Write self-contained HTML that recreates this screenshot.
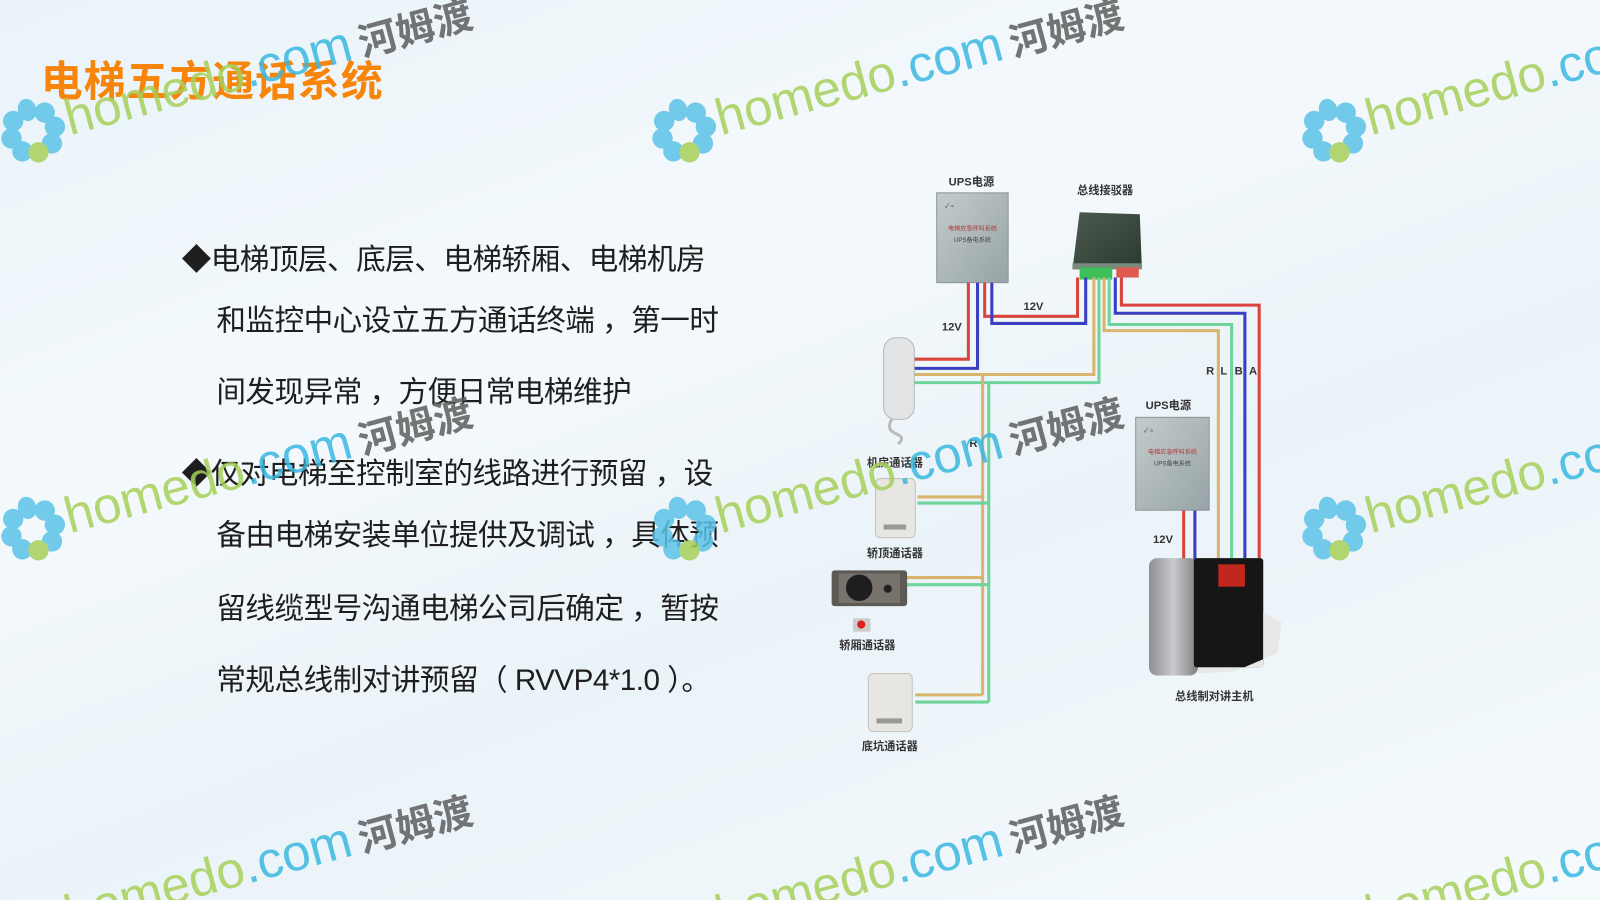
<!DOCTYPE html>
<html><head><meta charset="utf-8">
<style>
html,body{margin:0;padding:0;width:1600px;height:900px;overflow:hidden;}
#wrap{position:absolute;left:0;top:0;width:1568px;height:882px;transform:scale(1.0204);transform-origin:0 0;
background:linear-gradient(160deg,#e9f3f9 0%,#f4f9fc 35%,#eaf3f8 60%,#f5fafd 100%);overflow:hidden;
font-family:"Liberation Sans","Noto Sans CJK SC",sans-serif;}
.title{position:absolute;left:40px;top:46px;font-size:41px;font-weight:bold;color:#f7850a;letter-spacing:1px;white-space:nowrap;}
.ln{position:absolute;font-size:29px;color:#1e1e1e;white-space:nowrap;line-height:30px;letter-spacing:-0.5px;}
.wm{position:absolute;transform:rotate(-15deg);transform-origin:0 0;opacity:0.85;white-space:nowrap;}
.wm svg{position:absolute;left:-34px;top:-34px;}
.wm .t{position:absolute;left:34px;top:-30px;font-size:50px;line-height:54px;}
.wm .h{color:#a6d05a;}
.wm .c{color:#3ab8e0;}
.wm .z{color:#5d5d5d;font-weight:bold;font-size:38px;margin-left:8px;}
svg text{font-family:"Liberation Sans","Noto Sans CJK SC",sans-serif;}
</style></head><body><div id="wrap">

<div class="title">电梯五方通话系统</div>

<div class="ln" style="left:178px;top:240px;">◆电梯顶层、底层、电梯轿厢、电梯机房</div>
<div class="ln" style="left:212px;top:300px;">和监控中心设立五方通话终端 ，第一时</div>
<div class="ln" style="left:212px;top:370px;">间发现异常 ，方便日常电梯维护</div>
<div class="ln" style="left:178px;top:450px;">◆仅对电梯至控制室的线路进行预留 ，设</div>
<div class="ln" style="left:212px;top:510px;">备由电梯安装单位提供及调试 ，具体预</div>
<div class="ln" style="left:212px;top:582px;">留线缆型号沟通电梯公司后确定 ，暂按</div>
<div class="ln" style="left:212px;top:652px;">常规总线制对讲预留（ RVVP4*1.0 ）。</div>

<svg style="position:absolute;left:0;top:0" width="1568" height="882" viewBox="0 0 1568 882">
<defs>
<linearGradient id="ups" x1="0" y1="0" x2="1" y2="1"><stop offset="0" stop-color="#c3cccd"/><stop offset="1" stop-color="#97a3a5"/></linearGradient>
<linearGradient id="bus" x1="0" y1="0" x2="1" y2="1"><stop offset="0" stop-color="#4c5a4e"/><stop offset="1" stop-color="#2b3a31"/></linearGradient>
<linearGradient id="hs" x1="0" y1="0" x2="1" y2="0"><stop offset="0" stop-color="#8d8f92"/><stop offset="0.5" stop-color="#c9cacc"/><stop offset="1" stop-color="#7d7f82"/></linearGradient>
</defs>
<rect x="918" y="189" width="70" height="88" fill="url(#ups)" stroke="#8a9597"/>
<text x="926" y="204" font-size="6" fill="#346">✓ ≈</text>
<text x="953" y="226" font-size="6" fill="#b33" text-anchor="middle">电梯应急呼叫系统</text>
<text x="953" y="237" font-size="6" fill="#444" text-anchor="middle">UPS备电系统</text>
<text x="952" y="182" font-size="11" font-weight="bold" fill="#333" text-anchor="middle">UPS电源</text>
<polygon points="1058,208 1117,210 1119,262 1051,264" fill="url(#bus)"/>
<rect x="1051" y="258" width="68" height="6" fill="#7a8a7c"/>
<rect x="1058" y="262" width="32" height="12" fill="#3fbf5a"/>
<rect x="1094" y="262" width="22" height="10" fill="#e05a50"/>
<text x="1083" y="190" font-size="11" font-weight="bold" fill="#333" text-anchor="middle">总线接驳器</text>
<g fill="none" stroke-width="3">
<path d="M949,277V352H894" stroke="#d9443c"/>
<path d="M958,277V361H894" stroke="#3a3ec0"/>
<path d="M965,277V310H1056V272" stroke="#d9443c"/>
<path d="M972,277V317H1064V272" stroke="#3a3ec0"/>
<path d="M1072,272V367H894" stroke="#d9b46c"/>
<path d="M1077,272V375H894" stroke="#6fd39c"/>
<path d="M963,367V681" stroke="#d9b46c"/>
<path d="M969,375V688" stroke="#6fd39c"/>
<path d="M899,487H963M889,566H963M897,681H963" stroke="#d9b46c"/>
<path d="M899,493H969M889,573H969M897,688H969" stroke="#6fd39c"/>
<path d="M1082,272V324H1194V547" stroke="#d9b46c"/>
<path d="M1087,272V318H1207V547" stroke="#6fd39c"/>
<path d="M1093,272V307H1220V547" stroke="#3a3ec0"/>
<path d="M1099,272V299H1234V547" stroke="#d9443c"/>
<path d="M1160,500V549" stroke="#d9443c"/>
<path d="M1171,500V549" stroke="#3a3ec0"/>
</g>
<g font-size="11" font-weight="bold" fill="#333">
<text x="923" y="324">12V</text>
<text x="1003" y="304">12V</text>
<text x="1130" y="532">12V</text>
<text x="1182" y="367">R</text><text x="1196" y="367">L</text><text x="1210" y="367">B</text><text x="1224" y="367">A</text>
<text x="950" y="438">R</text>
</g>
<rect x="1113" y="409" width="72" height="91" fill="url(#ups)" stroke="#8a9597"/>
<text x="1121" y="424" font-size="6" fill="#346">✓ ≈</text>
<text x="1149" y="445" font-size="6" fill="#b33" text-anchor="middle">电梯应急呼叫系统</text>
<text x="1149" y="456" font-size="6" fill="#444" text-anchor="middle">UPS备电系统</text>
<text x="1145" y="401" font-size="11" font-weight="bold" fill="#333" text-anchor="middle">UPS电源</text>
<rect x="866" y="331" width="30" height="80" rx="12" fill="#e3e4e6" stroke="#b5b7ba"/>
<path d="M874,411 q-6,10 4,14 q10,4 2,10" fill="none" stroke="#bbb" stroke-width="3"/>
<text x="877" y="457" font-size="11" font-weight="bold" fill="#333" text-anchor="middle">机房通话器</text>
<rect x="858" y="469" width="39" height="58" rx="5" fill="#e7e6e2" stroke="#c4c2bc"/>
<rect x="866" y="514" width="22" height="5" fill="#999"/>
<text x="877" y="546" font-size="11" font-weight="bold" fill="#333" text-anchor="middle">轿顶通话器</text>
<rect x="815" y="559" width="74" height="35" rx="3" fill="#5d5a55"/>
<rect x="822" y="562" width="60" height="29" fill="#77736c"/>
<circle cx="842" cy="576" r="13" fill="#1e1e1e"/>
<circle cx="870" cy="577" r="4" fill="#222"/>
<rect x="836" y="606" width="17" height="13" fill="#ccc"/>
<circle cx="844" cy="612" r="4" fill="#e02020"/>
<text x="850" y="636" font-size="11" font-weight="bold" fill="#333" text-anchor="middle">轿厢通话器</text>
<rect x="851" y="660" width="43" height="57" rx="5" fill="#e7e6e2" stroke="#c4c2bc"/>
<rect x="859" y="704" width="25" height="5" fill="#999"/>
<text x="872" y="735" font-size="11" font-weight="bold" fill="#333" text-anchor="middle">底坑通话器</text>
<rect x="1126" y="547" width="48" height="115" rx="8" fill="url(#hs)"/>
<rect x="1170" y="547" width="68" height="107" rx="3" fill="#161616"/>
<rect x="1194" y="553" width="26" height="22" fill="#c0281e"/>
<path d="M1238,600 L1256,610 L1252,640 L1210,658 L1174,660 L1174,654 L1238,654Z" fill="#e8e8e8"/>
<text x="1190" y="686" font-size="11" font-weight="bold" fill="#333" text-anchor="middle">总线制对讲主机</text>
</svg>

<div class="wm" style="left:32px;top:128px;"><svg width="68" height="68" viewBox="-34 -34 68 68"><g fill="#5cc3e8"><ellipse cx="0" cy="-21" rx="9" ry="11"/><circle cx="16" cy="-14" r="10"/><circle cx="22" cy="2" r="10"/><circle cx="15" cy="17" r="10"/><circle cx="-15" cy="17" r="10"/><circle cx="-22" cy="2" r="10"/><circle cx="-16" cy="-14" r="10"/></g><circle cx="0" cy="22" r="10" fill="#a6d05a"/></svg><div class="t"><span class="h">homedo</span><span class="c">.com</span><span class="z">河姆渡</span></div></div>
<div class="wm" style="left:670px;top:128px;"><svg width="68" height="68" viewBox="-34 -34 68 68"><g fill="#5cc3e8"><ellipse cx="0" cy="-21" rx="9" ry="11"/><circle cx="16" cy="-14" r="10"/><circle cx="22" cy="2" r="10"/><circle cx="15" cy="17" r="10"/><circle cx="-15" cy="17" r="10"/><circle cx="-22" cy="2" r="10"/><circle cx="-16" cy="-14" r="10"/></g><circle cx="0" cy="22" r="10" fill="#a6d05a"/></svg><div class="t"><span class="h">homedo</span><span class="c">.com</span><span class="z">河姆渡</span></div></div>
<div class="wm" style="left:1307px;top:128px;"><svg width="68" height="68" viewBox="-34 -34 68 68"><g fill="#5cc3e8"><ellipse cx="0" cy="-21" rx="9" ry="11"/><circle cx="16" cy="-14" r="10"/><circle cx="22" cy="2" r="10"/><circle cx="15" cy="17" r="10"/><circle cx="-15" cy="17" r="10"/><circle cx="-22" cy="2" r="10"/><circle cx="-16" cy="-14" r="10"/></g><circle cx="0" cy="22" r="10" fill="#a6d05a"/></svg><div class="t"><span class="h">homedo</span><span class="c">.com</span><span class="z">河姆渡</span></div></div>
<div class="wm" style="left:32px;top:518px;"><svg width="68" height="68" viewBox="-34 -34 68 68"><g fill="#5cc3e8"><ellipse cx="0" cy="-21" rx="9" ry="11"/><circle cx="16" cy="-14" r="10"/><circle cx="22" cy="2" r="10"/><circle cx="15" cy="17" r="10"/><circle cx="-15" cy="17" r="10"/><circle cx="-22" cy="2" r="10"/><circle cx="-16" cy="-14" r="10"/></g><circle cx="0" cy="22" r="10" fill="#a6d05a"/></svg><div class="t"><span class="h">homedo</span><span class="c">.com</span><span class="z">河姆渡</span></div></div>
<div class="wm" style="left:670px;top:518px;"><svg width="68" height="68" viewBox="-34 -34 68 68"><g fill="#5cc3e8"><ellipse cx="0" cy="-21" rx="9" ry="11"/><circle cx="16" cy="-14" r="10"/><circle cx="22" cy="2" r="10"/><circle cx="15" cy="17" r="10"/><circle cx="-15" cy="17" r="10"/><circle cx="-22" cy="2" r="10"/><circle cx="-16" cy="-14" r="10"/></g><circle cx="0" cy="22" r="10" fill="#a6d05a"/></svg><div class="t"><span class="h">homedo</span><span class="c">.com</span><span class="z">河姆渡</span></div></div>
<div class="wm" style="left:1307px;top:518px;"><svg width="68" height="68" viewBox="-34 -34 68 68"><g fill="#5cc3e8"><ellipse cx="0" cy="-21" rx="9" ry="11"/><circle cx="16" cy="-14" r="10"/><circle cx="22" cy="2" r="10"/><circle cx="15" cy="17" r="10"/><circle cx="-15" cy="17" r="10"/><circle cx="-22" cy="2" r="10"/><circle cx="-16" cy="-14" r="10"/></g><circle cx="0" cy="22" r="10" fill="#a6d05a"/></svg><div class="t"><span class="h">homedo</span><span class="c">.com</span><span class="z">河姆渡</span></div></div>
<div class="wm" style="left:32px;top:908px;"><div class="t"><span class="h">homedo</span><span class="c">.com</span><span class="z">河姆渡</span></div></div>
<div class="wm" style="left:670px;top:908px;"><div class="t"><span class="h">homedo</span><span class="c">.com</span><span class="z">河姆渡</span></div></div>
<div class="wm" style="left:1307px;top:908px;"><div class="t"><span class="h">homedo</span><span class="c">.com</span><span class="z">河姆渡</span></div></div>

</div></body></html>
